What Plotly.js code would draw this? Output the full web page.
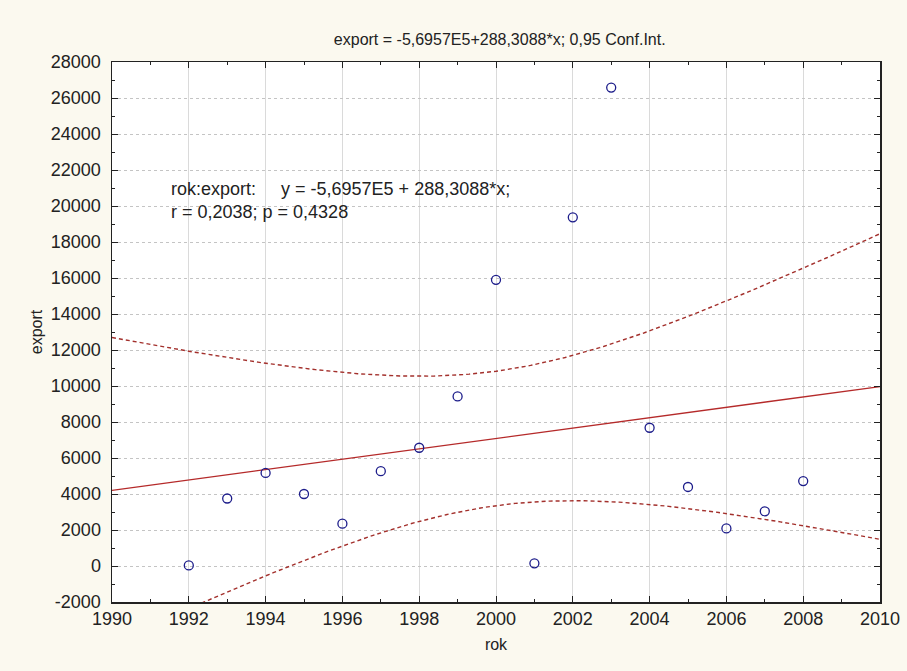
<!DOCTYPE html>
<html>
<head>
<meta charset="utf-8">
<script src="https://cdn.plot.ly/plotly-3.0.1.min.js"></script>
<style>html,body{margin:0;padding:0;background:#fbf9ef;}#chart{width:907px;height:671px;}</style>
</head>
<body>
<div id="chart"></div>
<script>
// Data
const years = [1992,1993,1994,1995,1996,1997,1998,1999,2000,2001,2002,2003,2004,2005,2006,2007,2008];
const exportVals = [30,3750,5170,4000,2350,5270,6570,9420,15900,150,19370,26580,7680,4390,2090,3040,4720];
const xTickVals = [1990,1992,1994,1996,1998,2000,2002,2004,2006,2008,2010];
const yTickVals = [-2000,0,2000,4000,6000,8000,10000,12000,14000,16000,18000,20000,22000,24000,26000,28000];
const titleText = "export = -5,6957E5+288,3088*x; 0,95 Conf.Int.";
const statsText = "rok:export:&nbsp;&nbsp;&nbsp;&nbsp; y = -5,6957E5 + 288,3088*x;<br>r = 0,2038; p = 0,4328";
const tCrit = 2.1314; // t(0.975, df=15)

// Least-squares fit and 95% confidence band
const n = years.length;
const mx = years.reduce((a,b)=>a+b,0)/n;
const my = exportVals.reduce((a,b)=>a+b,0)/n;
let sxx=0, sxy=0;
for (let i=0;i<n;i++){ sxx+=(years[i]-mx)**2; sxy+=(years[i]-mx)*(exportVals[i]-my); }
const slope = sxy/sxx, icpt = my - slope*mx;
let sse=0;
for (let i=0;i<n;i++){ const r = exportVals[i]-(icpt+slope*years[i]); sse+=r*r; }
const s = Math.sqrt(sse/(n-2));
const xs=[], fit=[], up=[], lo=[];
for (let k=0;k<=200;k++){
  const x = 1990 + k*0.1;
  const yh = icpt + slope*x;
  const hw = tCrit*s*Math.sqrt(1/n + (x-mx)**2/sxx);
  xs.push(x); fit.push(yh); up.push(yh+hw); lo.push(yh-hw);
}

const red = "#b52a2a";
const traces = [
  {x: xs, y: up, mode:"lines", line:{color:"#a3302c", width:1.4, dash:"4px,3px"}, hoverinfo:"skip"},
  {x: xs, y: lo, mode:"lines", line:{color:"#a3302c", width:1.4, dash:"4px,3px"}, hoverinfo:"skip"},
  {x: xs, y: fit, mode:"lines", line:{color:red, width:1.3}, hoverinfo:"skip"},
  {x: years, y: exportVals, mode:"markers", marker:{symbol:"circle-open", size:9, color:"#1c1c8a", line:{width:1.3, color:"#1c1c8a"}}}
];

const fam = "Liberation Sans, Arial, sans-serif";
const font = {family:fam, size:16, color:"#222"};
const tickFont = {family:fam, size:18, color:"#222"};
const layout = {
  width:907, height:671,
  paper_bgcolor:"#fbf9ef", plot_bgcolor:"#ffffff",
  showlegend:false,
  font: font,
  margin:{l:112, r:27, t:62, b:69},
  title:{text:titleText, x:0.551, xanchor:"center", y:0.942, yanchor:"middle", font:font},
  xaxis:{
    range:[1990,2010], tickvals:xTickVals, ticktext:xTickVals.map(String),
    ticks:"inside", ticklen:6, tickcolor:"#222", tickwidth:1,
    showline:true, linecolor:"#222", linewidth:1.5, mirror:"allticks",
    showgrid:true, gridcolor:"#dadada", gridwidth:1,
    zeroline:false,
    minor:{dtick:1, tick0:1990, ticks:"inside", ticklen:3, tickcolor:"#222", showgrid:false},
    title:{text:"rok", font:font, standoff:10},
    tickfont:tickFont
  },
  yaxis:{
    range:[-2000,28000], tickvals:yTickVals, ticktext:yTickVals.map(String),
    ticks:"inside", ticklen:6, tickcolor:"#222", tickwidth:1,
    showline:true, linecolor:"#222", linewidth:1.5, mirror:"allticks",
    showgrid:true, gridcolor:"#c4c4c4", gridwidth:1, griddash:"dot",
    zeroline:false,
    minor:{dtick:1000, tick0:0, ticks:"inside", ticklen:3, tickcolor:"#222", showgrid:false},
    ticklabelstandoff:6,
    title:{text:"export", font:font, standoff:4},
    tickfont:tickFont
  },
  annotations:[{
    xref:"paper", yref:"paper", x:0.074, y:0.787, xanchor:"left", yanchor:"top",
    text:statsText, showarrow:false, align:"left", font:{family:fam, size:18, color:"#222"}
  }]
};
Plotly.newPlot("chart", traces, layout, {staticPlot:true});
</script>
</body>
</html>
